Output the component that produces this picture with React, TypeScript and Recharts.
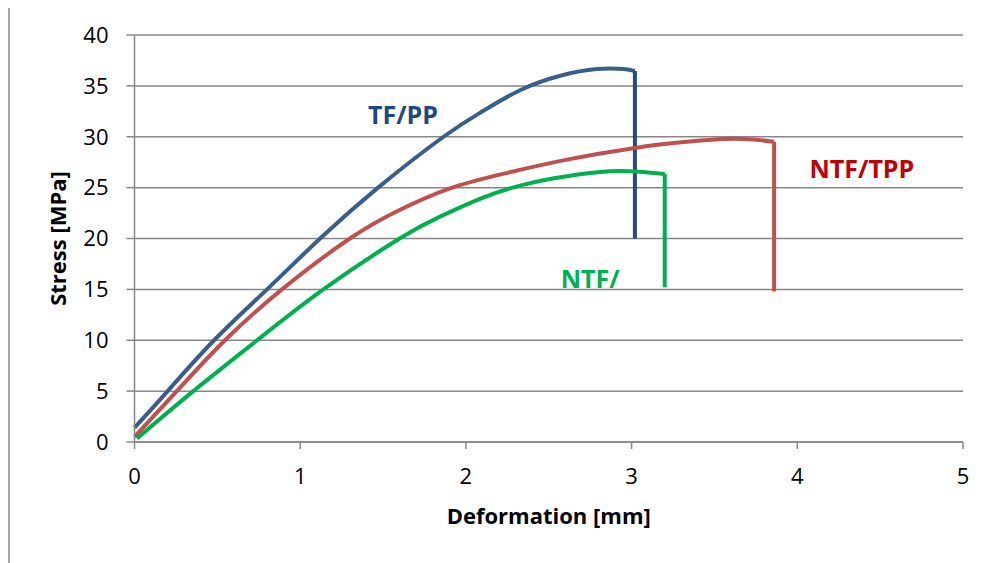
import React from 'react';
import { LineChart, Line, XAxis, YAxis, CartesianGrid, ReferenceDot } from 'recharts';

// deformation [mm] / stress [MPa]
const tfppDef = [0, 0.2, 0.48, 0.8, 1.12, 1.47, 1.865, 2.1, 2.33, 2.57, 2.79, 2.95, 3.02];
const tfppStress = [1.4, 5, 10, 15, 20, 25, 30, 32.5, 34.6, 36.0, 36.65, 36.65, 36.45];
const tfppBreak = 20;

const ntftppDef = [0, 0.255, 0.546, 0.89, 1.3, 1.6, 1.9, 2.21, 2.61, 3.02, 3.3, 3.62, 3.86];
const ntftppStress = [0.5, 5, 10, 15, 20, 22.8, 24.9, 26.3, 27.75, 28.9, 29.45, 29.8, 29.5];
const ntftppBreak = 14.8;

const ntfDef = [0.015, 0.355, 0.74, 1.14, 1.6, 1.85, 2.1, 2.35, 2.6, 2.87, 3.05, 3.2];
const ntfStress = [0.35, 5, 10, 15, 20, 22.2, 24.0, 25.3, 26.1, 26.6, 26.55, 26.35];
const ntfBreak = 15.2;

const xTicks = [0, 1, 2, 3, 4, 5];
const yTicks = [0, 5, 10, 15, 20, 25, 30, 35, 40];

const toRows = (xs: number[], ys: number[]) => xs.map((x, i) => ({ x, y: ys[i] }));
const dropRows = (xs: number[], ys: number[], to: number) => [
  { x: xs[xs.length - 1], y: ys[ys.length - 1] },
  { x: xs[xs.length - 1], y: to },
];

const BLUE = '#3A5E8C';
const BLUE_DARK = '#264B7E';
const RED = '#C0504D';
const GREEN = '#00B050';
const GRID = '#878787';
const FONT = '"Open Sans", sans-serif';

const StressTitle = (props: any) => {
  const { viewBox } = props;
  const cx = viewBox.x + 49;
  const cy = viewBox.y + viewBox.height / 2;
  return (
    <text
      x={cx}
      y={cy}
      transform={`rotate(-90 ${cx} ${cy})`}
      textAnchor="middle"
      dominantBaseline="central"
      fontFamily={FONT}
      fontSize={22}
      fontWeight="bold"
      fill="#000"
    >
      Stress [MPa]
    </text>
  );
};

const App = () => {
  const tick = { fill: '#000', fontSize: 22, fontFamily: FONT };
  return (
    <div
      style={{
        position: 'relative',
        width: 978,
        height: 557,
        marginTop: -2,
        borderLeft: '2px solid #A6A6A6',
        borderTop: '2px solid #A6A6A6',
        boxSizing: 'border-box',
      }}
    >
      <div style={{ position: 'absolute', left: -2, top: -2 }}>
        <LineChart width={978} height={557} margin={{ top: 29, right: 23, left: 0, bottom: 31 }}>
          <CartesianGrid vertical={false} stroke={GRID} strokeWidth={1.5} />
          <XAxis
            type="number"
            dataKey="x"
            domain={[0, 5]}
            ticks={xTicks}
            height={90}
            tick={tick}
            tickSize={7}
            tickMargin={19}
            stroke={GRID}
            strokeWidth={1.5}
            label={{
              value: 'Deformation [mm]',
              position: 'insideBottom',
              offset: 8,
              fill: '#000',
              fontSize: 22,
              fontWeight: 'bold',
              fontFamily: FONT,
            }}
          />
          <YAxis
            type="number"
            domain={[0, 40]}
            ticks={yTicks}
            width={126.5}
            tick={tick}
            tickSize={8}
            tickMargin={18}
            stroke={GRID}
            strokeWidth={1.5}
            label={{ content: StressTitle }}
          />
          <Line data={toRows(tfppDef, tfppStress)} dataKey="y" type="natural" stroke={BLUE} strokeWidth={4} dot={false} isAnimationActive={false} />
          <Line data={dropRows(tfppDef, tfppStress, tfppBreak)} dataKey="y" type="linear" stroke={BLUE_DARK} strokeWidth={4} dot={false} isAnimationActive={false} />
          <Line data={toRows(ntftppDef, ntftppStress)} dataKey="y" type="natural" stroke={RED} strokeWidth={4} dot={false} isAnimationActive={false} />
          <Line data={dropRows(ntftppDef, ntftppStress, ntftppBreak)} dataKey="y" type="linear" stroke={RED} strokeWidth={4} dot={false} isAnimationActive={false} />
          <Line data={toRows(ntfDef, ntfStress)} dataKey="y" type="natural" stroke={GREEN} strokeWidth={4} dot={false} isAnimationActive={false} />
          <Line data={dropRows(ntfDef, ntfStress, ntfBreak)} dataKey="y" type="linear" stroke={GREEN} strokeWidth={4} dot={false} isAnimationActive={false} />
          <ReferenceDot x={1.62} y={32.1} r={0} fill="none" stroke="none"
            label={{ value: 'TF/PP', position: 'center', fill: '#1F497D', fontSize: 25, fontWeight: 'bold', fontFamily: FONT }} />
          <ReferenceDot x={2.75} y={16.0} r={0} fill="none" stroke="none"
            label={{ value: 'NTF/', position: 'center', fill: GREEN, fontSize: 25, fontWeight: 'bold', fontFamily: FONT }} />
          <ReferenceDot x={4.39} y={26.8} r={0} fill="none" stroke="none"
            label={{ value: 'NTF/TPP', position: 'center', fill: '#C00000', fontSize: 25, fontWeight: 'bold', fontFamily: FONT }} />
        </LineChart>
      </div>
    </div>
  );
};

export default App;
